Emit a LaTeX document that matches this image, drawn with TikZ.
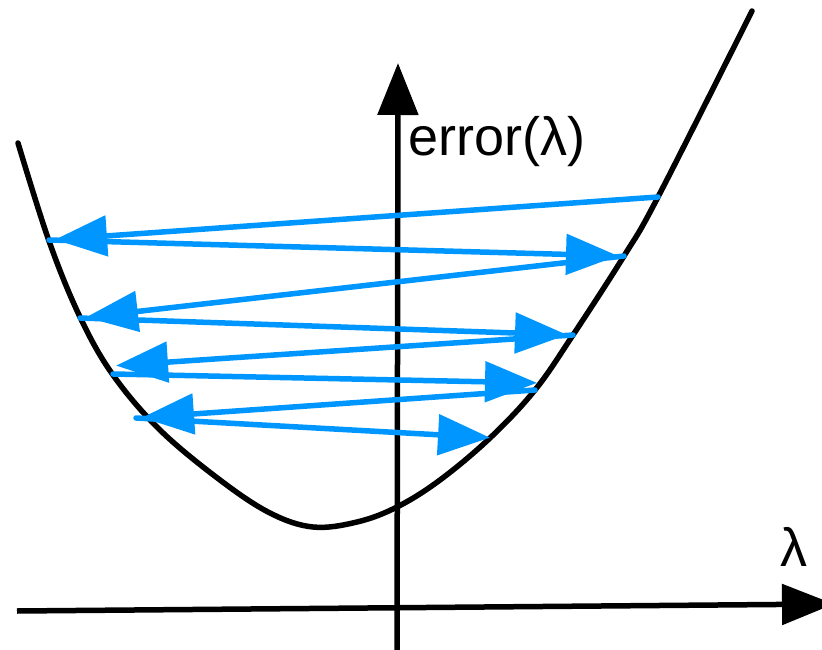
\documentclass[tikz,border=0pt]{standalone}
\usepackage{fontspec}
\setmainfont{Liberation Sans}
\usetikzlibrary{arrows.meta}
\definecolor{arrblue}{RGB}{0,150,255}
\begin{document}
\begin{tikzpicture}[x=1pt,y=-1pt,
  curveline/.style={line width=5.5pt, black, line cap=round},
  axisline/.style={line width=5.5pt, black, -{Triangle[length=52pt,width=40pt]}},
  zig/.style={line width=5.5pt, arrblue, line cap=round, shorten >=6pt,
    -{Triangle[length=52pt,width=40pt]}},
  lab/.style={inner sep=0pt, font=\fontsize{54}{64}\selectfont}]
\useasboundingbox (0,0) rectangle (822,650);
\clip (0,0) rectangle (822,650);
% axes
\coordinate (xs) at (17,611);
\coordinate (xe) at (834,604);
\coordinate (ys) at (397,660);
\coordinate (ye) at (398,63);
\draw[axisline] (xs) -- (xe);
\draw[axisline] (ys) -- (ye);
% curve
\draw[curveline] plot[smooth, tension=0.6] coordinates {
  (18,143) (49,241) (80,317) (113,375) (160,430) (220,480) (270,513)
  (313,527) (357,522) (397,507) (440,480) (490,438) (535,390) (573,335)
  (624,256) (658,197) (752,11)};
% zigzag points
\coordinate (p0) at (658,197);
\coordinate (p1) at (49,240);
\coordinate (p2) at (624,256);
\coordinate (p3) at (80,318);
\coordinate (p4) at (573,335);
\coordinate (p5) at (110,366);
\coordinate (p5b) at (113,374);
\coordinate (p6) at (543,383);
\coordinate (p6b) at (535,390);
\coordinate (p7) at (136,418);
\coordinate (p8) at (496,438);
\draw[zig] (p0) -- (p1);
\draw[zig] (p1) -- (p2);
\draw[zig] (p2) -- (p3);
\draw[zig] (p3) -- (p4);
\draw[zig] (p4) -- (p5);
\draw[zig] (p5b) -- (p6);
\draw[zig] (p6b) -- (p7);
\draw[zig] (p7) -- (p8);
% labels
\node[lab, anchor=base west] (ylab) at (408,156) {error(λ)};
\node[lab, anchor=base west] (xlab) at (780,566) {λ};
\end{tikzpicture}
\end{document}
